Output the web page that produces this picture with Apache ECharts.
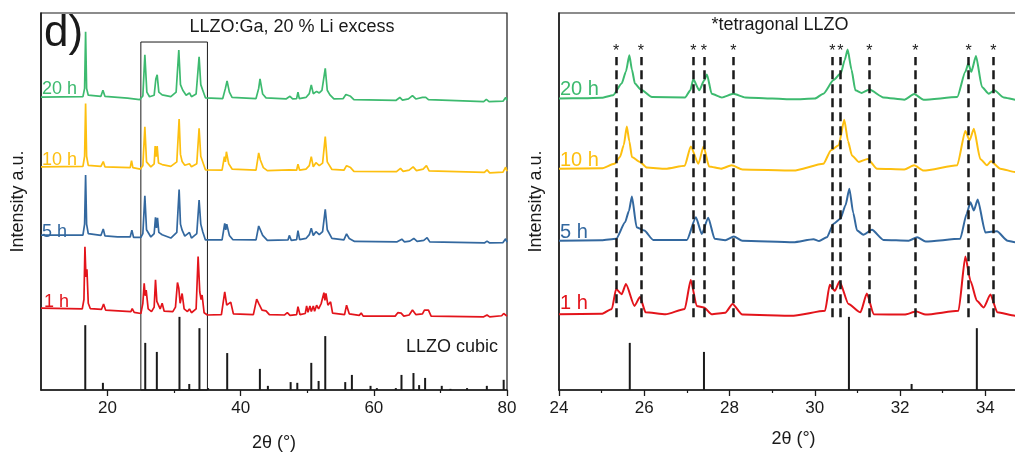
<!DOCTYPE html>
<html>
<head>
<meta charset="utf-8">
<title>LLZO:Ga XRD</title>
<script src="https://cdn.jsdelivr.net/npm/echarts@6/dist/echarts.min.js"></script>
<style>
  html, body { margin: 0; padding: 0; background: #fff; }
  #chart { width: 1015px; height: 453px; }
</style>
</head>
<body>
<div id="chart"></div>
<script>
// ---- data (2θ in degrees, intensity in a.u., patterns offset for display) ----
var wide20h = [[10,77.7],[16.3,77.8],[16.55,80],[16.7,95.0],[16.85,80],[17.1,78.2],[19.0,77.9],[19.3,79.5],[19.6,77.9],[23.0,77.4],[24.8,77.0],[25.3,78],[25.6,88.9],[25.9,79],[26.3,77.8],[27.0,78.2],[27.25,82.5],[27.45,83.6],[27.7,79],[28.2,78.3],[29.5,77.8],[30.3,79],[30.7,90.2],[30.95,81],[31.3,79.5],[31.8,78.2],[32.3,78.8],[32.6,77.8],[33.3,78.5],[33.75,88.4],[34.0,81],[34.3,79.5],[34.7,77.5],[37.3,77.3],[37.7,80],[37.95,82.0],[38.3,79],[38.7,77.6],[42.3,77.3],[42.7,80],[42.9,82.5],[43.3,78.5],[43.8,77.5],[46.8,77.2],[47.4,77.9],[47.8,77.2],[48.4,77.3],[48.6,79.0],[48.8,77.3],[49.8,77.6],[50.3,78.6],[50.6,80.9],[50.9,78.6],[51.4,79.2],[51.8,78.8],[52.2,79.5],[52.7,85.3],[53.0,79.5],[53.4,78.3],[54.0,77.2],[55.4,77.3],[55.8,78.4],[56.1,77.9],[56.5,77.9],[57,77.0],[63.3,76.8],[63.9,77.6],[64.3,76.9],[65.2,77.2],[65.8,78.1],[66.3,77.2],[67.3,77.6],[67.8,77.6],[68.2,77.0],[76.5,76.5],[76.9,77.1],[77.3,76.5],[79.4,76.6],[79.8,77.6],[80,76.8]];
var wide10h = [[10,59.2],[16.3,59.3],[16.55,62],[16.7,76.0],[16.85,62],[17.1,59.6],[19.0,59.3],[19.35,60.6],[19.6,59.2],[23.4,59],[23.6,60.8],[23.8,59],[24.9,58.6],[25.3,59.5],[25.6,69.8],[25.85,60.5],[26.5,59.2],[27.0,60],[27.15,64.7],[27.3,61.9],[27.45,64.7],[27.65,60.2],[28.2,59.8],[29.5,59.3],[30.4,60.5],[30.75,71.9],[30.95,62.5],[31.2,60.6],[31.6,59.6],[32.3,60.0],[32.6,59.2],[33.4,60],[33.75,69.4],[34.0,62],[34.3,60.5],[34.7,58.4],[37.2,58.3],[37.55,61.9],[37.7,60.5],[37.85,63.2],[38.2,60],[38.7,58.6],[42.3,58.3],[42.7,62.9],[42.95,61],[43.4,59],[44,58.2],[47.3,58.4],[47.6,58.0],[48.4,58.3],[48.6,59.9],[48.85,58.3],[49.8,58.6],[50.3,59.5],[50.6,61.9],[50.9,59.2],[51.3,60.3],[51.8,59.5],[52.3,60.2],[52.7,67.2],[53.0,60.5],[53.3,60.0],[53.7,58.5],[55.5,58.3],[55.9,59.5],[56.5,59.0],[57,58.0],[63.4,57.9],[64.0,58.8],[64.4,58.0],[65.3,58.3],[65.9,59.2],[66.4,58.2],[67.4,58.6],[67.9,59.5],[68.3,58.1],[76.6,57.7],[77,58.4],[77.4,57.6],[79.4,57.8],[79.8,59.1],[80,58.0]];
var wide5h = [[10,41.1],[16.3,41.1],[16.55,44],[16.7,57.0],[16.85,44],[17.1,41.5],[19.0,41.0],[19.35,42.7],[19.6,40.9],[21.5,40.6],[23.4,40.6],[23.65,42.4],[23.9,40.5],[25.0,40.5],[25.3,41.5],[25.6,51.5],[25.85,42.5],[26.5,40.6],[27.0,41.5],[27.2,45.8],[27.35,43],[27.5,45.7],[27.7,41.8],[28.2,41.2],[29.5,40.3],[30.4,41.8],[30.75,53.2],[30.95,44],[31.2,42.4],[31.6,40.8],[32.3,41.8],[32.6,40.3],[33.4,41.5],[33.75,50.4],[34.0,44],[34.3,42],[34.7,39.8],[37.2,39.8],[37.6,44.2],[37.75,42.5],[37.9,44.0],[38.3,41],[38.8,39.9],[42.3,39.8],[42.7,43.5],[42.9,44.0],[43.3,41],[44,39.7],[47.1,39.8],[47.3,41.0],[47.6,39.7],[48.4,39.9],[48.6,42.3],[48.85,39.9],[49.8,40.2],[50.3,41.2],[50.6,42.9],[50.9,41],[51.3,42.0],[51.8,41.2],[52.3,42.0],[52.7,47.9],[53.0,42.5],[53.3,42.4],[53.7,40.2],[55.5,39.8],[55.9,41.4],[56.3,40.2],[56.6,40.6],[57.1,39.4],[63.5,39.3],[64.2,40.0],[64.6,39.3],[65.4,39.5],[66.0,40.2],[66.5,39.4],[67.5,39.7],[68.0,40.4],[68.4,39.3],[76.6,39.0],[77,39.5],[77.4,39.0],[79.4,39.1],[79.8,40.1],[80,39.2]];
var wide1h = [[10,21.7],[16.2,21.5],[16.45,24],[16.6,38.0],[16.75,30],[16.9,32],[17.1,23],[17.4,21.6],[19.1,21.4],[19.4,22.8],[19.7,21.2],[23.5,20.8],[23.7,21.6],[24.0,20.6],[25.0,20.3],[25.3,23],[25.5,28.3],[25.65,25],[25.8,26.5],[26.1,21.5],[26.6,20.8],[27.0,22],[27.2,29.2],[27.4,23.5],[27.6,23.9],[27.9,21.5],[28.2,23.0],[28.5,20.9],[29.8,20.8],[30.2,22],[30.5,28.5],[30.7,27],[30.9,23],[31.2,25.6],[31.5,21.5],[32.0,20.8],[32.3,21.5],[32.6,20.5],[33.3,21.5],[33.6,35.4],[33.85,26],[34.05,24],[34.2,25.2],[34.5,20.5],[35,19.9],[37.1,20.0],[37.6,26.0],[37.9,22.5],[38.5,23.3],[38.9,20.2],[41.9,20.0],[42.4,24.1],[42.7,23],[43.2,21.2],[43.8,21],[44.3,20.0],[46.6,19.9],[47.0,20.5],[47.4,19.8],[48.4,20.0],[48.6,22.1],[48.9,20],[49.7,20.3],[49.9,22.3],[50.1,20.6],[50.4,22.3],[50.6,20.8],[50.9,22.3],[51.1,20.9],[51.4,22.5],[51.7,21.5],[52.1,23],[52.5,25.8],[52.65,23.8],[52.8,25.6],[53.1,22.5],[53.5,23.4],[53.8,20.4],[55.6,20.0],[55.9,22.5],[56.3,20.2],[57.8,19.8],[58.1,20.4],[58.4,19.6],[63.2,19.6],[63.6,20.5],[64.1,20.4],[64.5,19.6],[65.3,19.9],[65.8,21.2],[66.3,20.0],[67.3,20.2],[67.6,21.2],[68.2,21.2],[68.6,19.6],[76.5,19.4],[77,19.9],[77.4,19.4],[79.2,19.7],[79.5,20.3],[79.8,20.0],[80,19.6]];

var zoom20h = [[24,77.3],[24.6,77.4],[25.0,77.5],[25.27,78.2],[25.47,81.3],[25.57,84.5],[25.65,88.8],[25.71,85],[25.78,81.3],[25.92,79.7],[26.18,77.7],[26.96,77.6],[27.08,79.5],[27.15,82.4],[27.29,79.5],[27.4,82],[27.47,83.7],[27.58,78.6],[27.82,77.6],[28.09,78.6],[28.37,77.6],[29.0,77.3],[29.5,77.1],[30.0,77.3],[30.2,78.6],[30.44,82.2],[30.61,84.0],[30.7,87.5],[30.77,90.3],[30.86,85],[30.95,79.5],[31.1,78.8],[31.28,79.7],[31.61,77.6],[32.1,77.0],[32.33,78.5],[32.55,77.0],[33.34,77.7],[33.53,84.4],[33.6,86.6],[33.67,84.4],[33.78,88.6],[33.92,80.4],[34.08,78.6],[34.21,79.5],[34.43,77.6],[34.7,77.0],[35,77.0]];
var zoom10h = [[24,58.7],[25.0,58.8],[25.3,60.0],[25.43,61.8],[25.52,65],[25.59,69.9],[25.65,66],[25.71,61.8],[25.9,60.5],[26.06,59.0],[26.5,58.7],[26.95,59.5],[27.09,64.6],[27.27,60.0],[27.39,64.6],[27.52,59.3],[27.8,58.7],[28.05,59.6],[28.3,58.5],[29.5,58.2],[30.2,60.0],[30.38,63.6],[30.56,64.9],[30.69,71.7],[30.78,66],[30.87,62.2],[31.03,60.5],[31.24,61.3],[31.46,58.7],[32.1,58.5],[32.33,59.6],[32.55,58.2],[33.34,59.6],[33.53,68.7],[33.63,66.2],[33.73,69.3],[33.88,61.3],[34.04,59.6],[34.13,60.7],[34.35,58.7],[34.7,57.8],[35,57.8]];
var zoom5h = [[24,39.6],[25.0,39.7],[25.34,40.1],[25.55,44.5],[25.64,47.5],[25.71,51.3],[25.82,43.2],[26.0,42.3],[26.21,39.8],[27.0,39.8],[27.21,45.8],[27.35,41.4],[27.5,45.7],[27.65,40.1],[27.9,39.7],[28.1,40.7],[28.3,39.6],[29.5,39.2],[29.97,40.0],[30.1,39.5],[30.28,40.5],[30.44,44.1],[30.6,45.4],[30.72,49],[30.81,53.4],[30.9,47],[30.99,42.3],[31.14,41.2],[31.34,42.5],[31.61,39.8],[32.2,39.6],[32.4,40.5],[32.6,39.4],[33.41,40.1],[33.56,46.7],[33.65,49.8],[33.73,47.6],[33.82,50.5],[34.0,41.8],[34.27,42.1],[34.52,39.6],[34.7,39.2],[35,39.2]];
var zoom1h = [[24,20.1],[25.0,20.2],[25.24,21.5],[25.34,26.8],[25.47,25.4],[25.57,28.1],[25.77,22.3],[25.9,24.7],[26.03,20.6],[26.5,20.1],[26.95,21.5],[27.09,29.2],[27.23,22.3],[27.4,21.9],[27.58,20.1],[27.9,20.5],[28.07,22.8],[28.3,20.0],[29.5,19.7],[30.24,21.0],[30.35,27.9],[30.47,26.3],[30.58,28.8],[30.79,22.8],[31.07,20.6],[31.22,25.6],[31.38,20.1],[32.1,20.0],[32.38,20.8],[32.6,20.0],[33.37,21.0],[33.53,35.4],[33.65,29.0],[33.8,23.7],[33.96,21.9],[34.12,25.3],[34.28,20.6],[34.7,19.7],[35,19.7]];

// reference pattern (cubic LLZO)
var stickPos = [16.65,19.3,25.66,27.4,30.8,32.27,33.8,35.1,37.97,42.88,44.08,47.5,48.5,50.6,51.7,52.7,55.7,56.7,59.5,60.45,63.3,64.15,65.95,66.8,67.7,70.2,71.5,74.0,76.97,79.5];
var stickInt = [17.2,1.9,12.5,10.1,19.4,1.6,16.4,0.5,9.8,5.6,1.1,2.1,1.9,7.2,2.4,14.3,2.1,4.0,1.1,0.5,0.5,4.0,4.5,1.3,3.2,1.1,0.3,0.5,1.1,2.7];

// tetragonal LLZO reflections (dashed markers)
var tetraPos = [25.34,25.92,27.15,27.40,28.09,30.41,30.60,31.28,32.36,33.61,34.19];

var seriesNames = ['20 h', '10 h', '5 h', '1 h'];
var colors = ['#3dba6f', '#fdbf0f', '#33689f', '#e3141b'];
var wideTicks = [20, 40, 60, 80];
var wideMinor = [30, 50, 70];

var font = '"Liberation Sans", Arial, sans-serif';
var ink = '#1a1a1a';

var sticks = stickPos.map(function (x, i) { return [x, stickInt[i]]; });

var myChart = echarts.init(document.getElementById('chart'));

function lineSeries(name, data, xi, yi, color, w, smooth) {
  return {
    name: name, type: 'line', xAxisIndex: xi, yAxisIndex: yi,
    data: data, symbol: 'none',
    smooth: smooth || false, smoothMonotone: 'x',
    lineStyle: { color: color, width: w }
  };
}

var tetraLines = tetraPos.map(function (x) {
  return [{ coord: [x, 19.3] }, { coord: [x, 88.3] }];
});

var option = {
  animation: false,
  grid: [
    { left: 41, top: 13, width: 466, height: 377, show: true, borderColor: ink, borderWidth: 1.2, outerBoundsMode: 'none', containLabel: false },
    // the right panel runs past the picture's right edge (cropped at ~34.7°)
    { left: 559, top: 13, width: 469, height: 377, show: true, borderColor: ink, borderWidth: 1.2, outerBoundsMode: 'none', containLabel: false }
  ],
  xAxis: [
    {
      gridIndex: 0, type: 'value', min: 10, max: 80, interval: 10,
      name: '2θ (°)', nameLocation: 'middle', nameGap: 44,
      nameTextStyle: { fontFamily: font, fontSize: 18, color: ink },
      axisLine: { lineStyle: { color: ink, width: 1.5 } },
      axisTick: { customValues: wideTicks, length: 6, lineStyle: { color: ink, width: 1.3 } },
      axisLabel: {
        customValues: wideTicks, fontFamily: font, fontSize: 17, color: ink, margin: 10,
        formatter: function (v) { return v % 20 === 0 ? String(v) : ''; }
      },
      splitLine: { show: false }
    },
    {
      gridIndex: 0, type: 'value', position: 'bottom', min: 10, max: 80, interval: 10,
      axisLine: { show: false },
      axisTick: { customValues: wideMinor, length: 3, lineStyle: { color: ink, width: 1.2 } },
      axisLabel: { show: false },
      splitLine: { show: false }
    },
    {
      gridIndex: 1, type: 'value', min: 24, max: 35, interval: 2,
      name: '2θ (°)', nameLocation: 'middle', nameGap: 40,
      nameTextStyle: { fontFamily: font, fontSize: 18, color: ink },
      axisLine: { lineStyle: { color: ink, width: 1.5 } },
      axisTick: { length: 6, lineStyle: { color: ink, width: 1.3 } },
      minorTick: { show: true, splitNumber: 2, length: 3, lineStyle: { color: ink, width: 1.2 } },
      axisLabel: { fontFamily: font, fontSize: 17, color: ink, margin: 10 },
      splitLine: { show: false }
    }
  ],
  yAxis: [
    {
      gridIndex: 0, type: 'value', min: 0, max: 100,
      name: 'Intensity a.u.', nameLocation: 'middle', nameGap: 14, nameRotate: 90,
      nameTextStyle: { fontFamily: font, fontSize: 18, color: ink },
      axisLine: { show: true, lineStyle: { color: ink, width: 1.5 } },
      axisTick: { show: false }, axisLabel: { show: false }, splitLine: { show: false }
    },
    {
      gridIndex: 1, type: 'value', min: 0, max: 100,
      name: 'Intensity a.u.', nameLocation: 'middle', nameGap: 14, nameRotate: 90,
      nameTextStyle: { fontFamily: font, fontSize: 18, color: ink },
      axisLine: { show: true, lineStyle: { color: ink, width: 1.5 } },
      axisTick: { show: false }, axisLabel: { show: false }, splitLine: { show: false }
    }
  ],
  series: [
    lineSeries(seriesNames[0], wide20h, 0, 0, colors[0], 1.7),
    lineSeries(seriesNames[1], wide10h, 0, 0, colors[1], 1.7),
    lineSeries(seriesNames[2], wide5h, 0, 0, colors[2], 1.7),
    lineSeries(seriesNames[3], wide1h, 0, 0, colors[3], 1.7),
    {
      name: 'LLZO cubic', type: 'bar', xAxisIndex: 0, yAxisIndex: 0,
      data: sticks, barWidth: 2, itemStyle: { color: ink },
      markArea: {
        silent: true,
        itemStyle: { color: 'rgba(0,0,0,0)', borderColor: ink, borderWidth: 1 },
        data: [[{ coord: [25, 0] }, { coord: [35, 92.3] }]]
      }
    },
    lineSeries(seriesNames[0], zoom20h, 2, 1, colors[0], 2, 0.2),
    lineSeries(seriesNames[1], zoom10h, 2, 1, colors[1], 2, 0.2),
    lineSeries(seriesNames[2], zoom5h, 2, 1, colors[2], 2, 0.2),
    lineSeries(seriesNames[3], zoom1h, 2, 1, colors[3], 2, 0.2),
    {
      name: 'LLZO cubic zoom', type: 'bar', xAxisIndex: 2, yAxisIndex: 1,
      data: sticks, barWidth: 2, itemStyle: { color: ink }, clip: true,
      markLine: {
        silent: true, symbol: ['none', 'none'],
        lineStyle: { color: ink, width: 2.5, type: [9, 5] },
        label: { show: true, position: 'end', formatter: '*', fontFamily: font, fontSize: 16, color: ink, distance: -2 },
        data: tetraLines
      }
    }
  ],
  graphic: [
    { type: 'text', x: 44, y: 34, style: { text: 'd)', font: '44px ' + font, fill: ink, verticalAlign: 'middle' } },
    { type: 'text', x: 292, y: 27, style: { text: 'LLZO:Ga, 20 % Li excess', font: '18px ' + font, fill: ink, align: 'center', verticalAlign: 'middle' } },
    { type: 'text', x: 406, y: 347, style: { text: 'LLZO cubic', font: '18px ' + font, fill: ink, verticalAlign: 'middle' } },
    { type: 'text', x: 780, y: 25, style: { text: '*tetragonal LLZO', font: '18px ' + font, fill: ink, align: 'center', verticalAlign: 'middle' } },
    { type: 'text', x: 42, y: 89, style: { text: seriesNames[0], font: '18px ' + font, fill: colors[0], verticalAlign: 'middle' } },
    { type: 'text', x: 42, y: 160, style: { text: seriesNames[1], font: '18px ' + font, fill: colors[1], verticalAlign: 'middle' } },
    { type: 'text', x: 42, y: 232, style: { text: seriesNames[2], font: '18px ' + font, fill: colors[2], verticalAlign: 'middle' } },
    { type: 'text', x: 44, y: 302, style: { text: seriesNames[3], font: '18px ' + font, fill: colors[3], verticalAlign: 'middle' } },
    { type: 'text', x: 560, y: 89, style: { text: seriesNames[0], font: '20px ' + font, fill: colors[0], verticalAlign: 'middle' } },
    { type: 'text', x: 560, y: 160, style: { text: seriesNames[1], font: '20px ' + font, fill: colors[1], verticalAlign: 'middle' } },
    { type: 'text', x: 560, y: 232, style: { text: seriesNames[2], font: '20px ' + font, fill: colors[2], verticalAlign: 'middle' } },
    { type: 'text', x: 560, y: 303, style: { text: seriesNames[3], font: '20px ' + font, fill: colors[3], verticalAlign: 'middle' } }
  ]
};

myChart.setOption(option);
</script>
</body>
</html>
